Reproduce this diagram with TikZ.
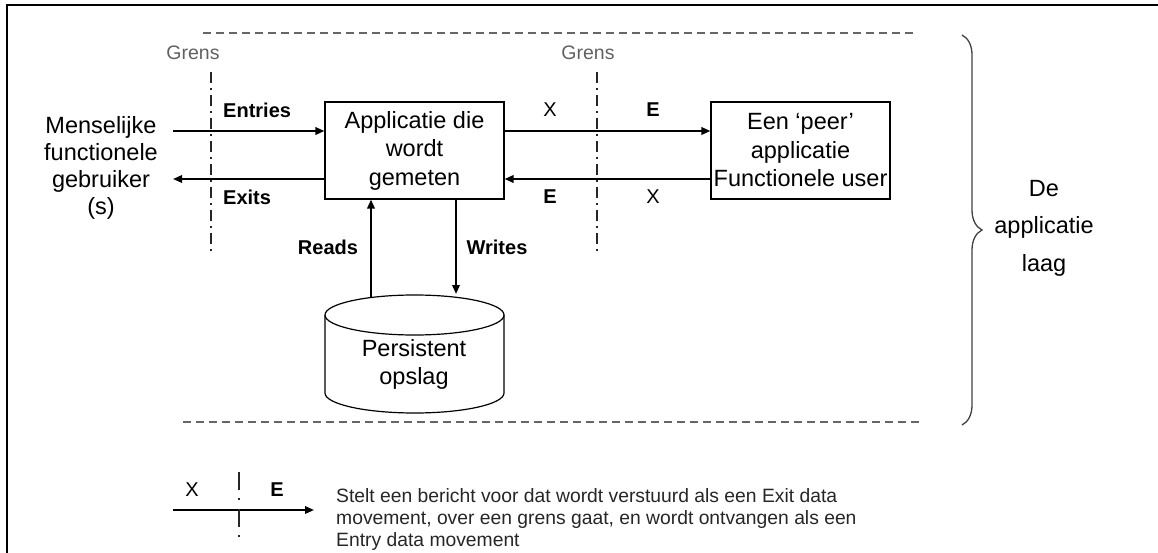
\documentclass[tikz,border=0pt]{standalone}
\usepackage{fontspec}
\setmainfont{Liberation Sans}
\usetikzlibrary{arrows.meta,decorations.pathreplacing}
\begin{document}
\begin{tikzpicture}[x=1pt,y=-1pt,
  big/.style={font=\fontsize{23.5}{28.5}\selectfont},
  lbl/.style={font=\fontsize{20}{24}\selectfont\bfseries, inner sep=0pt},
  lblx/.style={font=\fontsize{20}{24}\selectfont, inner sep=0pt},
  box/.style={draw, line width=1.2pt, minimum width=179pt, minimum height=97pt,
    inner sep=0pt, align=center, big},
  flow/.style={line width=1.9pt, -{Triangle[length=9pt,width=7.5pt]}},
  grens/.style={line width=1.6pt, black!85, dash pattern=on 11pt off 5pt on 2pt off 5pt},
  layerline/.style={line width=1.4pt, black!60, dash pattern=on 8pt off 5pt},
  grenstxt/.style={font=\fontsize{19.5}{22}\selectfont, text=black!62, inner sep=0pt},
]
\useasboundingbox (0,0) rectangle (1158,553);
\clip (0,0) rectangle (1158,553);

% outer frame
\draw[line width=2.6pt] (7,5) rectangle (1185,590);

% layer boundaries
\coordinate (topL) at (203,33);
\coordinate (topR) at (917,33);
\coordinate (botL) at (183,422);
\coordinate (botR) at (920,422);
\draw[layerline] (topL) -- (topR);
\draw[layerline] (botL) -- (botR);

% boundaries between users and application
\node[grenstxt] (grensA) at (193,53) {Grens};
\node[grenstxt] (grensB) at (588,53) {Grens};
\coordinate (gA1) at (211,72);
\coordinate (gA2) at (211,253);
\coordinate (gB1) at (597,72);
\coordinate (gB2) at (597,253);
\draw[grens] (gA1) -- (gA2);
\draw[grens] (gB1) -- (gB2);

% actors
\node[align=center, inner sep=0pt, font=\fontsize{23.5}{27}\selectfont] (user) at (101,168)
  {Menselijke\\functionele\\gebruiker\\(s)};
\node[box] (app) at (414.5,150.5) {Applicatie die\\wordt\\gemeten};
\node[box] (peer) at (800.5,150.5) {Een ‘peer’\\applicatie\\Functionele user};

% data movements
\coordinate (uin) at (173,131);
\coordinate (uout) at (173,179);
\draw[flow] (uin) -- (uin -| app.west);
\draw[flow] (uout -| app.west) -- (uout);
\draw[flow] (uin -| app.east) -- (uin -| peer.west);
\draw[flow] (uout -| peer.west) -- (uout -| app.east);

\node[lbl, anchor=west] (entries) at (223,110) {Entries};
\node[lbl, anchor=west] (exits) at (223,197) {Exits};
\node[lblx] (x1) at (550,110) {X};
\node[lbl] (e1) at (653,110) {E};
\node[lbl] (e2) at (550,197) {E};
\node[lblx] (x2) at (653,197) {X};

% persistent storage
\draw[line width=1.2pt] (325,315) -- (325,393)
  arc[start angle=180, end angle=0, x radius=89.5, y radius=20] -- (504,315);
\draw[line width=1.2pt] (414.5,315) ellipse[x radius=89.5, y radius=20];
\node[align=center, inner sep=0pt, font=\fontsize{23.5}{28}\selectfont] (store) at (414,364)
  {Persistent\\opslag};

\coordinate (rd) at (371,297);
\coordinate (wr) at (456,294);
\draw[flow] (rd) -- (rd |- app.south);
\draw[flow] (wr |- app.south) -- (wr);
\node[lbl] (reads) at (328,247) {Reads};
\node[lbl] (writes) at (497,247) {Writes};

% application layer
\coordinate (brT) at (962,35);
\coordinate (brB) at (962,425);
\draw[decorate, decoration={brace, amplitude=20pt}, line width=1.3pt, black!75] (brT) -- (brB);
\node[align=center, inner sep=0pt, font=\fontsize{23.5}{37.5}\selectfont] (layer) at (1044,228)
  {De\\applicatie\\laag};

% legend
\coordinate (lgA) at (173,510);
\coordinate (lgB) at (314,510);
\coordinate (lgT) at (239,472);
\coordinate (lgD) at (239,540);
\draw[flow] (lgA) -- (lgB);
\draw[line width=1.6pt, black!85, dash pattern=on 18pt off 8pt on 2pt off 9pt] (lgT) -- (lgD);
\node[lblx] (lgx) at (192,490) {X};
\node[lbl] (lge) at (277,490) {E};
\node[anchor=west, align=left, inner sep=0pt, font=\fontsize{19.3}{22}\selectfont, text=black!85]
  (legendtxt) at (336,520)
  {Stelt een bericht voor dat wordt verstuurd als een Exit data\\
   movement, over een grens gaat, en wordt ontvangen als een\\
   Entry data movement};
\end{tikzpicture}
\end{document}
